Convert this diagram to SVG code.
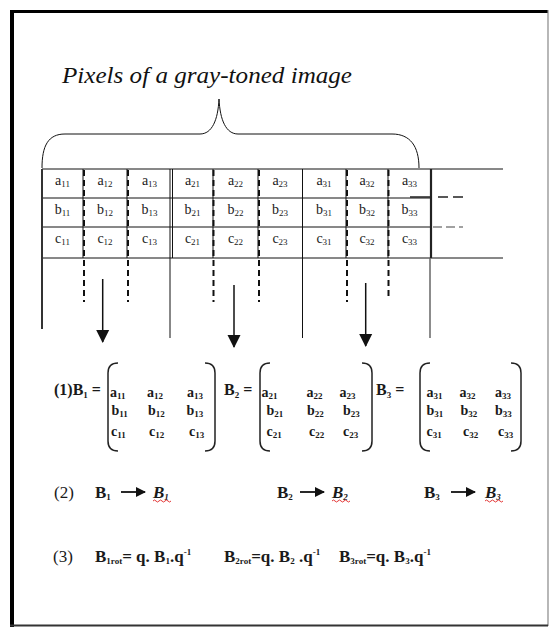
<svg xmlns="http://www.w3.org/2000/svg" width="550" height="628" viewBox="0 0 550 628">
<style>
.cell{font-family:"Liberation Serif","Times New Roman",serif;font-size:14px;fill:#1a1a1a;text-anchor:middle}
.cs{font-size:9px}
.m{font-family:"Liberation Serif","Times New Roman",serif;font-size:14px;font-weight:bold;fill:#1a1a1a}
.ms{font-size:9px}
.eq{font-family:"Liberation Serif","Times New Roman",serif;font-size:16px;font-weight:bold;fill:#1a1a1a}
.lbl{font-family:"Liberation Serif","Times New Roman",serif;font-size:17px;fill:#1a1a1a}
.b{font-weight:bold}
.bi{font-weight:bold;font-style:italic}
.s{font-size:9px}
.thin{stroke:#111;stroke-width:1;fill:none}
.dash{stroke:#111;stroke-width:2;stroke-dasharray:6 4;fill:none}
.brk{stroke:#222;stroke-width:1.5;fill:none}
.sq{stroke:#e02020;stroke-width:0.9;fill:none}
.va{stroke:#111;stroke-width:1.5}
</style>
<defs>
<marker id="ah" markerWidth="10" markerHeight="10" refX="9" refY="5" orient="auto" markerUnits="userSpaceOnUse">
<path d="M0,0 L10,5 L0,10 Z" fill="#111"/>
</marker>
<marker id="ahv" markerWidth="13" markerHeight="14" refX="12" refY="7" orient="auto" markerUnits="userSpaceOnUse">
<path d="M0,0.5 L13,7 L0,13.5 Z" fill="#111"/>
</marker>
</defs>
<rect width="550" height="628" fill="#fff"/>
<g id="frame">
<line x1="12" y1="10" x2="12" y2="627" stroke="#000" stroke-width="4"/>
<line x1="10" y1="11.5" x2="548" y2="11.5" stroke="#000" stroke-width="3"/>
<line x1="548" y1="10" x2="548" y2="626" stroke="#888" stroke-width="1.2"/>
<line x1="10" y1="625.5" x2="548" y2="625.5" stroke="#333" stroke-width="2"/>
</g>
<g id="title">
<text x="62" y="83" font-family="'Liberation Serif','Times New Roman',serif" font-size="24" font-style="italic" fill="#111" textLength="290" lengthAdjust="spacingAndGlyphs">Pixels of a gray-toned image</text>
</g>
<g id="brace">
<path class="thin" stroke="#444" d="M42,168 C42,146 48,134 65,134 L200,134 C212,134 218,120 219,99 C220,120 226,134 238,134 L392,134 C410,134 419,146 419,168"/>
</g>
<g id="grid">
<line class="thin" x1="42" y1="169" x2="503" y2="169"/>
<line class="thin" x1="42" y1="198" x2="431" y2="198"/>
<line class="thin" x1="42" y1="227" x2="431" y2="227"/>
<line class="thin" x1="42" y1="258" x2="503" y2="258"/>
<line x1="42" y1="169" x2="42" y2="329" stroke="#333" stroke-width="2"/>
<line class="thin" x1="83" y1="169" x2="83" y2="258"/>
<line class="thin" x1="127" y1="169" x2="127" y2="258"/>
<line class="thin" x1="172.5" y1="169" x2="172.5" y2="258"/>
<line class="thin" x1="170" y1="169" x2="170" y2="338"/>
<line class="thin" x1="213" y1="169" x2="213" y2="258"/>
<line class="thin" x1="258" y1="169" x2="258" y2="258"/>
<line class="thin" x1="302.5" y1="169" x2="302.5" y2="338"/>
<line class="thin" x1="346" y1="169" x2="346" y2="258"/>
<line class="thin" x1="388" y1="169" x2="388" y2="258"/>
<line x1="431" y1="169" x2="431" y2="258" stroke="#222" stroke-width="2.2"/>
<line x1="430" y1="258" x2="430" y2="338" stroke="#666" stroke-width="1.5"/>
<line class="dash" x1="84" y1="170" x2="84" y2="302"/>
<line class="dash" x1="128" y1="170" x2="128" y2="302"/>
<line class="dash" x1="213.5" y1="170" x2="213.5" y2="302"/>
<line class="dash" x1="259" y1="170" x2="259" y2="302"/>
<line class="dash" x1="347" y1="170" x2="347" y2="302"/>
<line class="dash" x1="388.5" y1="170" x2="388.5" y2="299"/>
<line x1="410" y1="197" x2="466" y2="197" stroke="#222" stroke-width="1.6" stroke-dasharray="22 6 10 5 10"/>
<line x1="433" y1="227" x2="463" y2="227" stroke="#444" stroke-width="1.2" stroke-dasharray="9 4"/>
</g>
<g id="cells">
<text class="cell" x="62.5" y="185">a<tspan class="cs" dy="2">11</tspan></text>
<text class="cell" x="105" y="185">a<tspan class="cs" dy="2">12</tspan></text>
<text class="cell" x="149.5" y="185">a<tspan class="cs" dy="2">13</tspan></text>
<text class="cell" x="192.5" y="185">a<tspan class="cs" dy="2">21</tspan></text>
<text class="cell" x="235.5" y="185">a<tspan class="cs" dy="2">22</tspan></text>
<text class="cell" x="280" y="185">a<tspan class="cs" dy="2">23</tspan></text>
<text class="cell" x="324" y="185">a<tspan class="cs" dy="2">31</tspan></text>
<text class="cell" x="367" y="185">a<tspan class="cs" dy="2">32</tspan></text>
<text class="cell" x="409.5" y="185">a<tspan class="cs" dy="2">33</tspan></text>
<text class="cell" x="62.5" y="214">b<tspan class="cs" dy="2">11</tspan></text>
<text class="cell" x="105" y="214">b<tspan class="cs" dy="2">12</tspan></text>
<text class="cell" x="149.5" y="214">b<tspan class="cs" dy="2">13</tspan></text>
<text class="cell" x="192.5" y="214">b<tspan class="cs" dy="2">21</tspan></text>
<text class="cell" x="235.5" y="214">b<tspan class="cs" dy="2">22</tspan></text>
<text class="cell" x="280" y="214">b<tspan class="cs" dy="2">23</tspan></text>
<text class="cell" x="324" y="214">b<tspan class="cs" dy="2">31</tspan></text>
<text class="cell" x="367" y="214">b<tspan class="cs" dy="2">32</tspan></text>
<text class="cell" x="409.5" y="214">b<tspan class="cs" dy="2">33</tspan></text>
<text class="cell" x="62.5" y="243">c<tspan class="cs" dy="2">11</tspan></text>
<text class="cell" x="105" y="243">c<tspan class="cs" dy="2">12</tspan></text>
<text class="cell" x="149.5" y="243">c<tspan class="cs" dy="2">13</tspan></text>
<text class="cell" x="192.5" y="243">c<tspan class="cs" dy="2">21</tspan></text>
<text class="cell" x="235.5" y="243">c<tspan class="cs" dy="2">22</tspan></text>
<text class="cell" x="280" y="243">c<tspan class="cs" dy="2">23</tspan></text>
<text class="cell" x="324" y="243">c<tspan class="cs" dy="2">31</tspan></text>
<text class="cell" x="367" y="243">c<tspan class="cs" dy="2">32</tspan></text>
<text class="cell" x="409.5" y="243">c<tspan class="cs" dy="2">33</tspan></text>
</g>
<g id="connectors">
<line class="va" x1="102.7" y1="279" x2="102.7" y2="342" marker-end="url(#ahv)"/>
<line class="va" x1="234" y1="285" x2="234" y2="347" marker-end="url(#ahv)"/>
<line class="va" x1="365.7" y1="283" x2="365.7" y2="346" marker-end="url(#ahv)"/>
</g>
<g id="matrix1">
<text class="eq" x="54" y="395">(1)B<tspan class="s" dy="3">1</tspan><tspan dy="-3"> =</tspan></text>
<path class="brk" d="M118,363 Q108,363 108,373 L108,441 Q108,451 118,451"/>
<path class="brk" d="M205,363 Q215,363 215,373 L215,441 Q215,451 205,451"/>
<text class="m" x="110" y="397">a<tspan class="ms" dy="2">11</tspan></text>
<text class="m" x="147" y="397">a<tspan class="ms" dy="2">12</tspan></text>
<text class="m" x="187" y="397">a<tspan class="ms" dy="2">13</tspan></text>
<text class="m" x="111.5" y="415">b<tspan class="ms" dy="2">11</tspan></text>
<text class="m" x="148" y="415">b<tspan class="ms" dy="2">12</tspan></text>
<text class="m" x="186.5" y="415">b<tspan class="ms" dy="2">13</tspan></text>
<text class="m" x="111" y="436">c<tspan class="ms" dy="2">11</tspan></text>
<text class="m" x="149" y="436">c<tspan class="ms" dy="2">12</tspan></text>
<text class="m" x="189" y="436">c<tspan class="ms" dy="2">13</tspan></text>
</g>
<g id="matrix2">
<text class="eq" x="224" y="395">B<tspan class="s" dy="3">2</tspan><tspan dy="-3"> =</tspan></text>
<path class="brk" d="M270,363 Q260,363 260,373 L260,441 Q260,451 270,451"/>
<path class="brk" d="M362,363 Q372,363 372,373 L372,441 Q372,451 362,451"/>
<text class="m" x="261.5" y="397">a<tspan class="ms" dy="2">21</tspan></text>
<text class="m" x="306.5" y="397">a<tspan class="ms" dy="2">22</tspan></text>
<text class="m" x="339.5" y="397">a<tspan class="ms" dy="2">23</tspan></text>
<text class="m" x="266.5" y="415">b<tspan class="ms" dy="2">21</tspan></text>
<text class="m" x="307" y="415">b<tspan class="ms" dy="2">22</tspan></text>
<text class="m" x="343" y="415">b<tspan class="ms" dy="2">23</tspan></text>
<text class="m" x="266.5" y="436">c<tspan class="ms" dy="2">21</tspan></text>
<text class="m" x="309" y="436">c<tspan class="ms" dy="2">22</tspan></text>
<text class="m" x="343" y="436">c<tspan class="ms" dy="2">23</tspan></text>
</g>
<g id="matrix3">
<text class="eq" x="376" y="395">B<tspan class="s" dy="3">3</tspan><tspan dy="-3"> =</tspan></text>
<path class="brk" d="M430,363 Q420,363 420,373 L420,441 Q420,451 430,451"/>
<path class="brk" d="M511,363 Q521,363 521,373 L521,441 Q521,451 511,451"/>
<text class="m" x="426.5" y="397">a<tspan class="ms" dy="2">31</tspan></text>
<text class="m" x="459.5" y="397">a<tspan class="ms" dy="2">32</tspan></text>
<text class="m" x="495" y="397">a<tspan class="ms" dy="2">33</tspan></text>
<text class="m" x="426.5" y="415">b<tspan class="ms" dy="2">31</tspan></text>
<text class="m" x="460.5" y="415">b<tspan class="ms" dy="2">32</tspan></text>
<text class="m" x="495" y="415">b<tspan class="ms" dy="2">33</tspan></text>
<text class="m" x="426.5" y="436">c<tspan class="ms" dy="2">31</tspan></text>
<text class="m" x="463" y="436">c<tspan class="ms" dy="2">32</tspan></text>
<text class="m" x="498" y="436">c<tspan class="ms" dy="2">33</tspan></text>
</g>
<g id="step2">
<text class="lbl" x="54" y="498">(2)</text>
<text class="lbl b" x="95" y="498">B<tspan class="s" dy="2">1</tspan></text>
<line x1="121" y1="492" x2="145" y2="492" stroke="#111" stroke-width="1.8" marker-end="url(#ah)"/>
<text class="lbl bi" x="153" y="498">B<tspan class="s" dy="2">1</tspan></text>
<path class="sq" d="M153,501 q1.5,-2 3,0 t3,0 t3,0 t3,0 t3,0 t3,0"/>
<text class="lbl b" x="277" y="498">B<tspan class="s" dy="2">2</tspan></text>
<line x1="300" y1="492" x2="324" y2="492" stroke="#111" stroke-width="1.8" marker-end="url(#ah)"/>
<text class="lbl bi" x="332" y="498">B<tspan class="s" dy="2">2</tspan></text>
<path class="sq" d="M332,501 q1.5,-2 3,0 t3,0 t3,0 t3,0 t3,0 t3,0"/>
<text class="lbl b" x="424" y="498">B<tspan class="s" dy="2">3</tspan></text>
<line x1="451" y1="492" x2="475" y2="492" stroke="#111" stroke-width="1.8" marker-end="url(#ah)"/>
<text class="lbl bi" x="485" y="498">B<tspan class="s" dy="2">3</tspan></text>
<path class="sq" d="M485,501 q1.5,-2 3,0 t3,0 t3,0 t3,0 t3,0 t3,0"/>
</g>
<g id="step3">
<text class="lbl" x="53" y="562">(3)</text>
<text class="lbl b" x="95" y="562">B<tspan class="s" dy="2">1rot</tspan><tspan dy="-2">= q. B</tspan><tspan class="s" dy="2">1</tspan><tspan dy="-2">.q</tspan><tspan class="s" dy="-7">-1</tspan></text>
<text class="lbl b" x="224" y="562">B<tspan class="s" dy="2">2rot</tspan><tspan dy="-2">=q. B</tspan><tspan class="s" dy="2">2</tspan><tspan dy="-2"> .q</tspan><tspan class="s" dy="-7">-1</tspan></text>
<text class="lbl b" x="339" y="562">B<tspan class="s" dy="2">3rot</tspan><tspan dy="-2">=q. B</tspan><tspan class="s" dy="2">3</tspan><tspan dy="-2">.q</tspan><tspan class="s" dy="-7">-1</tspan></text>
</g>
</svg>
